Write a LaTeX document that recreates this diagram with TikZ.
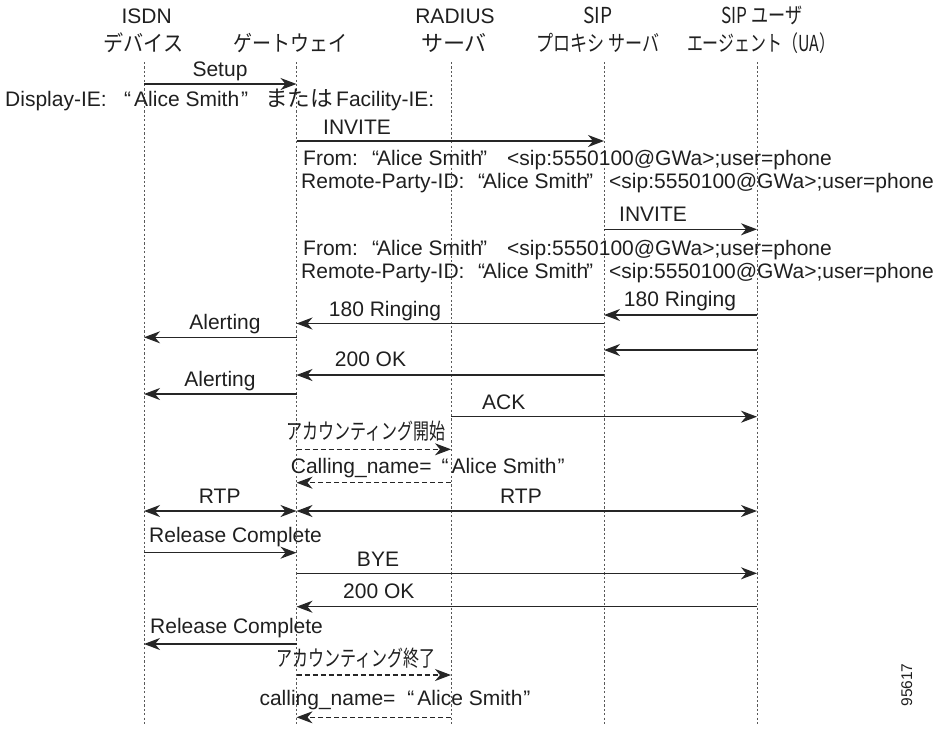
\documentclass[tikz,border=0pt]{standalone}
\usepackage{fontspec}
\setmainfont{Liberation Sans}
\newfontfamily\jp{Noto Sans CJK JP}
\usetikzlibrary{arrows.meta}
\newcommand\jw[3]{\resizebox{#2pt}{\height}{\fontsize{#1}{#1}\selectfont\jp #3}}
\newcommand\alice{“\kern-2pt Alice Smith\kern-2pt”}
\newcommand\sipuri{<sip:5550100@GWa>;user=phone}
\begin{document}
\begin{tikzpicture}[x=1pt,y=-1pt,
  txt/.style={font=\fontsize{21}{24}\selectfont, text=black!88, inner sep=0pt, anchor=base},
  txtw/.style={txt, anchor=base west},
  life/.style={black!65, line width=0.9pt, dash pattern=on 2.2pt off 2.2pt},
  tip/.tip={Stealth[length=16pt,width=12pt,inset=5pt]},
  msg/.style={black!85, line width=1.5pt, -tip},
  dmsg/.style={msg, line width=1.1pt, dash pattern=on 5pt off 3pt},
  both/.style={black!85, line width=1.5pt, tip-tip}
]
\useasboundingbox (0,0) rectangle (941,729);

% lifelines
\foreach \n/\x in {isdn/144, gw/296.5, rad/451, px/604, ua/757} {
  \coordinate (\n) at (\x,62);
  \coordinate (\n-end) at (\x,725);
  \draw[life] (\n) -- (\n-end);
}

% header
\node[txt] (h1a) at (146.7,23) {ISDN};
\node[txt] (h1b) at (143.3,51) {\jw{22}{80}{デバイス}};
\node[txt] (h2)  at (290,51) {\jw{22}{114}{ゲートウェイ}};
\node[txt] (h3a) at (455,23) {RADIUS};
\node[txt] (h3b) at (454,51) {\jw{22}{66}{サーバ}};
\node[txt] (h4a) at (598,23) {\jw{22}{29}{SIP}};
\node[txt] (h4b) at (598.3,51) {\jw{22}{123}{プロキシ サーバ}};
\node[txt] (h5a) at (762,23) {\jw{22}{81}{SIP ユーザ}};
\node[txt] (h5b) at (761,51) {\jw{22}{148}{エージェント（UA）}};

% row coordinates
\foreach \r/\y in {1/84, 2/141, 3/229.3, 4/315, 5/323.5, 6/337.3, 7/350, 8/375, 9/394,
  10/416.7, 11/449.3, 12/482.7, 13/511, 15/552.7, 16/573.3, 17/606.7, 18/644, 19/675, 20/717.3}
  \coordinate (r\r) at (0,\y);

% Setup
\draw[msg] (isdn |- r1) -- (gw |- r1);
\node[txt] (l1) at (220,76) {Setup};
\node[txtw] (d1) at (5,106.7) {Display-IE:};
\node[txtw] (d2) at (124,106.7) {“\kern3pt Alice Smith\kern2pt”};
\node[txtw] (d3) at (265,106.7) {\jw{22}{68}{または}};
\node[txtw] (d4) at (336,106.7) {Facility-IE:};

% INVITE 1
\draw[msg] (gw |- r2) -- (px |- r2);
\node[txt] (l2) at (357,134) {INVITE};
\node[txtw] (f1a) at (303,165) {From:};
\node[txtw] (f1b) at (372,165) {\alice};
\node[txtw] (f1c) at (507,165) {\sipuri};
\node[txtw] (g1a) at (301,188) {Remote-Party-ID:};
\node[txtw] (g1b) at (478,188) {\alice};
\node[txtw] (g1c) at (609,188) {\sipuri};

% INVITE 2
\draw[msg] (px |- r3) -- (ua |- r3);
\node[txt] (l3) at (653,221.7) {INVITE};
\node[txtw] (f2a) at (303,255) {From:};
\node[txtw] (f2b) at (372,255) {\alice};
\node[txtw] (f2c) at (507,255) {\sipuri};
\node[txtw] (g2a) at (301,278) {Remote-Party-ID:};
\node[txtw] (g2b) at (478,278) {\alice};
\node[txtw] (g2c) at (609,278) {\sipuri};

% 180 Ringing
\draw[msg] (ua |- r4) -- (px |- r4);
\node[txt] (l4) at (680,306.7) {180 Ringing};
\draw[msg] (px |- r5) -- (gw |- r5);
\node[txt] (l5) at (385,316) {180 Ringing};
\draw[msg] (gw |- r6) -- (isdn |- r6);
\node[txt] (l6) at (225,329.3) {Alerting};

% unlabeled, 200 OK
\draw[msg] (ua |- r7) -- (px |- r7);
\draw[msg] (px |- r8) -- (gw |- r8);
\node[txt] (l8) at (370.5,366.7) {200 OK};
\draw[msg] (gw |- r9) -- (isdn |- r9);
\node[txt] (l9) at (220,386.7) {Alerting};

% ACK
\draw[msg] (rad |- r10) -- (ua |- r10);
\node[txt] (l10) at (503.8,409.3) {ACK};

% accounting start
\node[txt] (l11) at (366.3,439.5) {\jw{22}{159}{アカウンティング開始}};
\draw[dmsg] (gw |- r11) -- (rad |- r11);
\node[txtw] (l12) at (290.7,473) {Calling\_name=\kern10pt“\kern3pt Alice Smith\kern1pt”};
\draw[dmsg] (rad |- r12) -- (gw |- r12);

% RTP
\draw[both] (isdn |- r13) -- (gw |- r13);
\draw[both] (gw |- r13) -- (ua |- r13);
\node[txt] (l13a) at (219.7,503) {RTP};
\node[txt] (l13b) at (521,503) {RTP};

% release
\draw[msg] (isdn |- r15) -- (gw |- r15);
\node[txtw] (l15) at (149,542.7) {Release Complete};
\draw[msg] (gw |- r16) -- (ua |- r16);
\node[txt] (l16) at (378,566) {BYE};
\draw[msg] (ua |- r17) -- (gw |- r17);
\node[txt] (l17) at (378.8,598.3) {200 OK};
\draw[msg] (gw |- r18) -- (isdn |- r18);
\node[txtw] (l18) at (150,633.3) {Release Complete};

% accounting end
\node[txt] (l19) at (356.3,666.5) {\jw{22}{159}{アカウンティング終了}};
\draw[dmsg] (gw |- r19) -- (rad |- r19);
\node[txtw] (l20) at (259.3,705) {calling\_name=\kern12pt“\kern3pt Alice Smith\kern1pt”};
\draw[dmsg] (rad |- r20) -- (gw |- r20);

% figure id
\node[font=\fontsize{15.5}{16}\selectfont, text=black!88, rotate=90, inner sep=0pt] (fid) at (906.7,685) {95617};
\end{tikzpicture}
\end{document}
